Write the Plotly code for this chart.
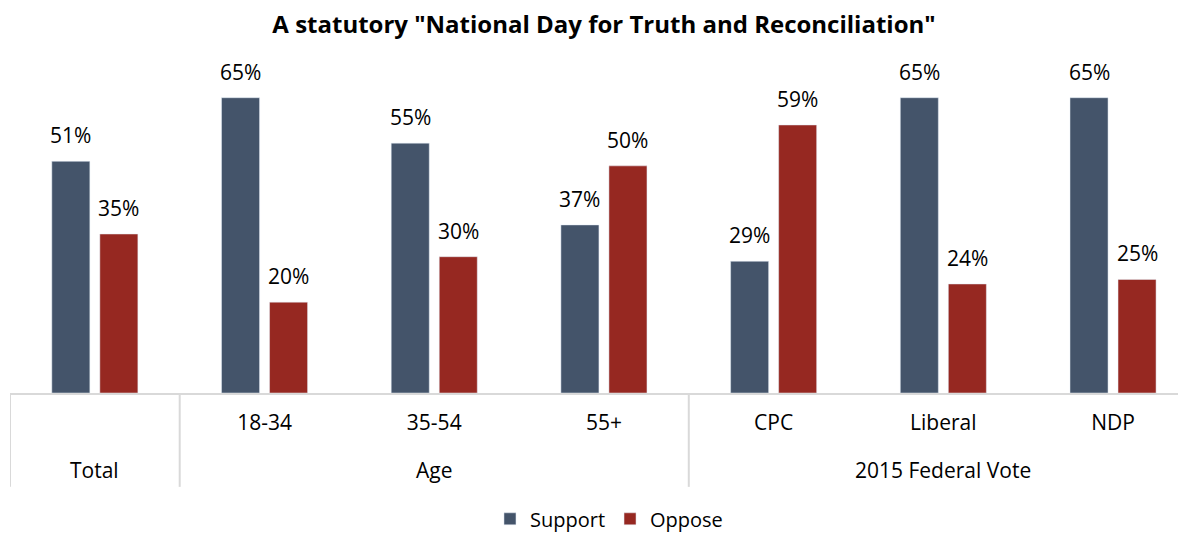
import plotly.graph_objects as go

categories = ["Total", "18-34", "35-54", "55+", "CPC", "Liberal", "NDP"]
tick_labels = ["", "18-34", "35-54", "55+", "CPC", "Liberal", "NDP"]
groups = ["Total", "Age", "2015 Federal Vote"]
group_centers = [0, 2, 5]
dividers = [-0.5, 0.5, 3.5]
support = [51, 65, 55, 37, 29, 65, 65]
oppose = [35, 20, 30, 50, 59, 24, 25]

OFF = 8  # page body margin
W, H = 1186 - OFF, 533 - OFF
base = 393 - OFF
mt, ml, mr = 74.5 - OFF, 10 - OFF, 0
mb = H - base
ph = H - mt - mb

def py(screen_y):
    return (base - (screen_y - OFF)) / ph

FONT = "Open Sans"
FS = 21
fig = go.Figure()
fig.add_trace(go.Bar(x=categories, y=support, name="Support", marker_color="#44546A"))
fig.add_trace(go.Bar(x=categories, y=oppose, name="Oppose", marker_color="#962821"))

ann = []
for i, c in enumerate(categories):
    for val, dx in ((support[i], -24), (oppose[i], 24)):
        ann.append(dict(x=c, y=val, xref="x", yref="y", text=f"{val}%", showarrow=False,
                        xshift=dx, yshift=10, yanchor="bottom",
                        font=dict(family=FONT, size=FS, color="#000000")))
for g, cx in zip(groups, group_centers):
    ann.append(dict(x=cx, y=py(470), xref="x", yref="paper", text=g, showarrow=False,
                    yanchor="middle", font=dict(family=FONT, size=FS, color="#000000")))

shapes = [dict(type="line", xref="x", yref="paper", x0=d, x1=d, y0=0, y1=py(487),
               line=dict(color="#D9D9D9", width=2)) for d in dividers]

fig.update_layout(
    width=W, height=H,
    margin=dict(t=mt, b=mb, l=ml, r=mr, autoexpand=False),
    paper_bgcolor="white", plot_bgcolor="white",
    title=dict(text='<b>A statutory "National Day for Truth and Reconciliation"</b>',
               x=(604 - OFF) / W, xanchor="center", y=1 - (25 - OFF) / H, yanchor="middle",
               font=dict(family=FONT, size=24, color="#000000")),
    barmode="group", bargap=0.434, bargroupgap=0.208,
    showlegend=True,
    legend=dict(orientation="h", x=(608 - OFF) / W, xanchor="center", y=py(519), yanchor="middle",
                font=dict(family=FONT, size=20, color="#000000"), itemwidth=30),
    annotations=ann, shapes=shapes,
    font=dict(family=FONT, size=FS, color="#000000"),
)
fig.update_xaxes(type="category", range=[-0.5, 6.43], tickvals=categories, ticktext=tick_labels,
                 showline=True, linecolor="#D9D9D9", linewidth=2, showgrid=False,
                 ticks="", ticklabelstandoff=10, tickfont=dict(family=FONT, size=FS, color="#000000"))
fig.update_yaxes(range=[0, 70], visible=False, showgrid=False)

fig.write_html("out.html")
